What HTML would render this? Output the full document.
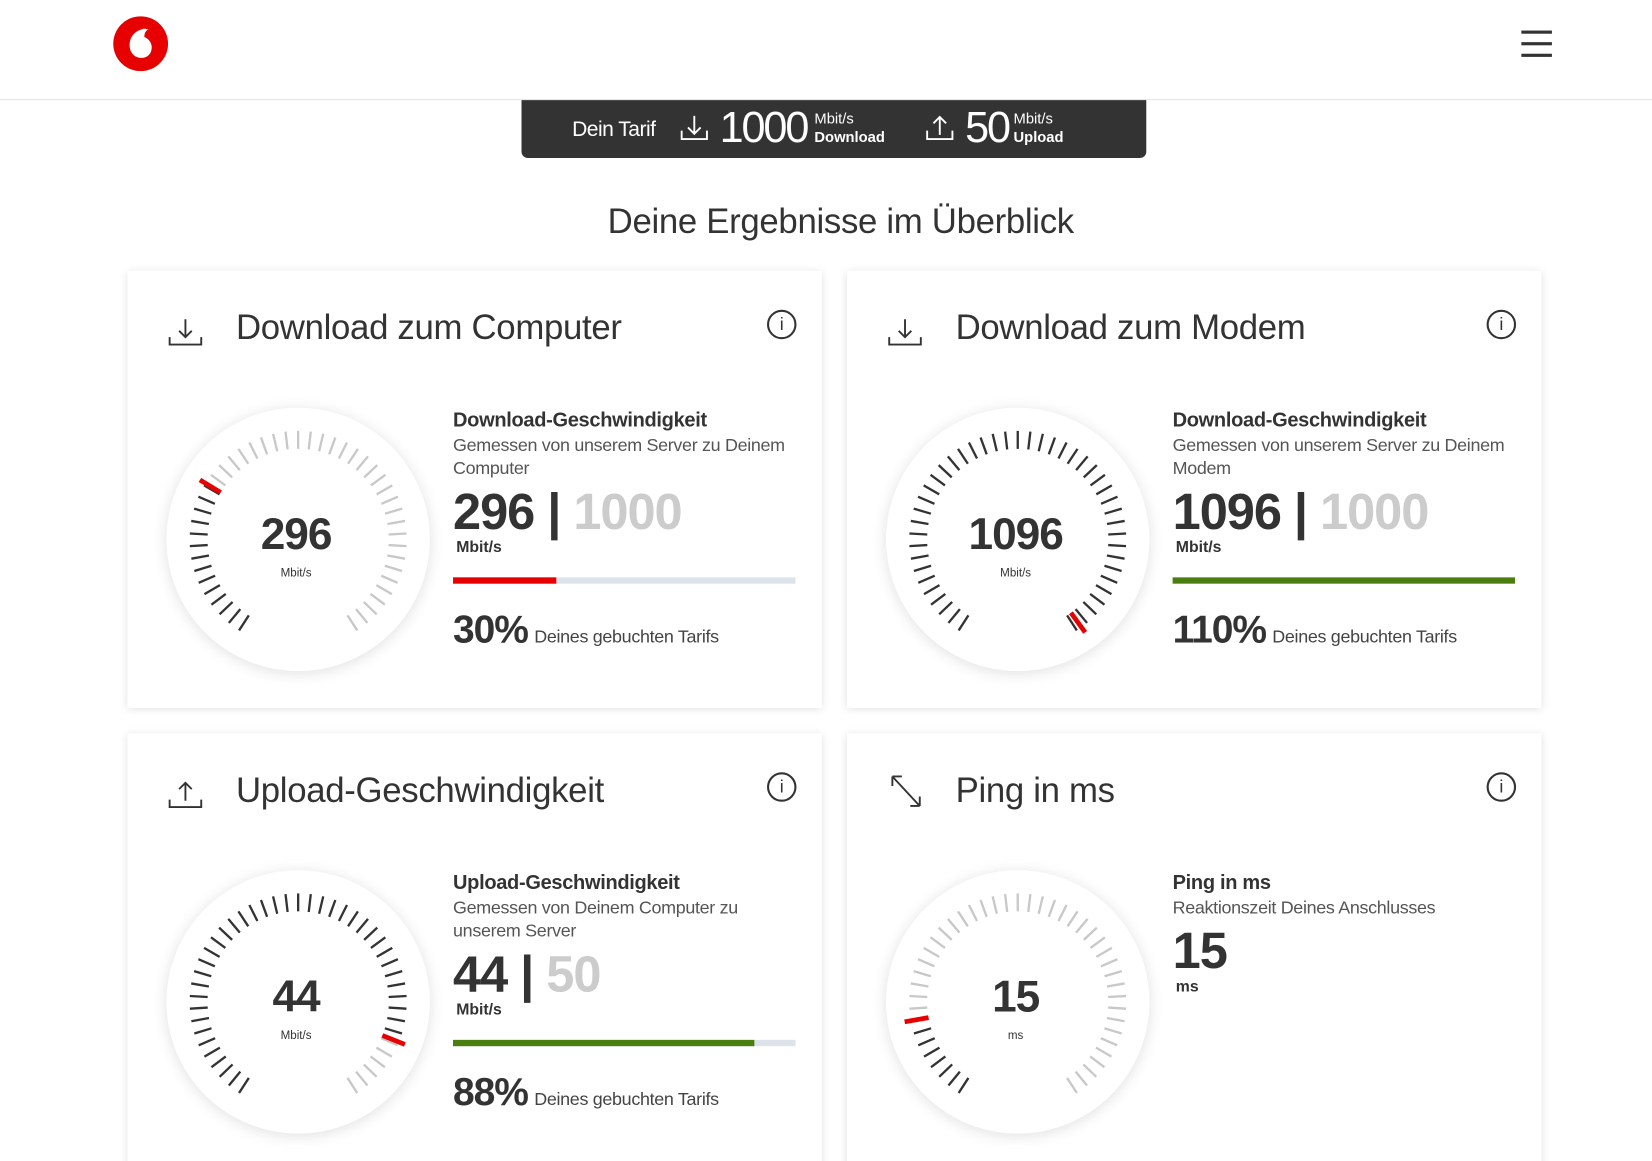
<!DOCTYPE html>
<html><head><meta charset="utf-8">
<style>
html,body{margin:0;padding:0;background:#fff;overflow:hidden}
body{width:1652px;height:1161px;position:relative;font-family:"Liberation Sans",sans-serif;color:#333}
#w{position:absolute;left:0;top:0;width:1568px;height:1102px;transform:scale(1.05357);transform-origin:0 0}
.a{position:absolute;white-space:nowrap}
.card{position:absolute;width:659px;height:415px;background:#fff;box-shadow:0 1px 8px rgba(0,0,0,0.13)}
.ttl{position:absolute;left:103px;top:35px;font-size:33px;color:#333;letter-spacing:-0.3px}
.gauge{position:absolute;left:37px;top:130px;width:250px;height:250px;border-radius:50%;background:#fff;box-shadow:0 2px 14px rgba(0,0,0,0.12)}
.gauge svg{position:absolute;left:0;top:0}
.gn{position:absolute;left:-2px;width:250px;text-align:center;top:96px;font-size:42px;font-weight:bold;color:#333;letter-spacing:-1px}
.gu{position:absolute;left:-2px;width:250px;text-align:center;top:151px;font-size:11px;color:#333}
.rt{position:absolute;left:309px}
.h{font-size:19px;font-weight:bold;top:132px;letter-spacing:-0.3px}
.d{font-size:17px;color:#555;top:155px;line-height:22px;white-space:normal;width:330px;letter-spacing:-0.3px}
.big{font-size:48px;font-weight:bold;top:202px;letter-spacing:-1px}
.big span{color:#ccc}
.un{font-size:15px;font-weight:bold;top:254px;left:312px}
.bar{top:291px;width:325px;height:6px;background:#dde3ea}
.bar div{height:6px}
.pc{top:320px;font-size:37px;font-weight:bold;letter-spacing:-1px}
.pc span{font-size:17px;font-weight:normal;color:#444;margin-left:6px;letter-spacing:-0.3px}
.info{position:absolute;left:607px;top:37px;width:24px;height:24px;border:2px solid #333;border-radius:50%;text-align:center;font-size:17px;line-height:24px}
</style></head><body><div id="w">
<div class="a" style="left:0;top:0;width:1568px;height:94px;border-bottom:1px solid #e5e5e5"></div>
<svg class="a" style="left:107px;top:15px" width="53" height="53" viewBox="0 0 53 53"><circle cx="26.5" cy="26.5" r="26" fill="#e60000"/><path d="M27 13c-7 2-11 8-11 15 0 7 5 12 11 12 6 0 10-4 10-10 0-5-3-8-7-10 0-3 1-6 4-7-3-1-5-1-7 0z" fill="#fff"/></svg>
<div class="a" style="left:1444px;top:29px;width:29px;height:3px;background:#333"></div>
<div class="a" style="left:1444px;top:40px;width:29px;height:3px;background:#333"></div>
<div class="a" style="left:1444px;top:51px;width:29px;height:3px;background:#333"></div>
<div class="a" style="left:495px;top:95px;width:593px;height:55px;background:#333;border-radius:0 0 6px 6px"></div>
<div class="a" style="left:543px;top:112px;font-size:20px;color:#fff;letter-spacing:-0.5px">Dein Tarif</div>
<svg class="a" style="left:645px;top:108px" width="28" height="26"><path d="M14 2v17M8 13l6 6 6-6M2 16v8h24v-8" stroke="#fff" stroke-width="1.8" fill="none"/></svg>
<div class="a" style="left:683px;top:98px;font-size:41px;color:#fff;letter-spacing:-2px">1000</div>
<div class="a" style="left:773px;top:104px;font-size:14px;color:#fff">Mbit/s</div>
<div class="a" style="left:773px;top:122px;font-size:14px;color:#fff;font-weight:bold">Download</div>
<svg class="a" style="left:878px;top:108px" width="28" height="26"><path d="M14 20V3M8 9l6-6 6 6M2 16v8h24v-8" stroke="#fff" stroke-width="1.8" fill="none"/></svg>
<div class="a" style="left:916px;top:98px;font-size:41px;color:#fff;letter-spacing:-2px">50</div>
<div class="a" style="left:962px;top:104px;font-size:14px;color:#fff">Mbit/s</div>
<div class="a" style="left:962px;top:122px;font-size:14px;color:#fff;font-weight:bold">Upload</div>
<div class="a" style="left:0;width:1596px;text-align:center;top:191px;font-size:33px;color:#333;letter-spacing:-0.3px">Deine Ergebnisse im Überblick</div>

<div class="card" style="left:121px;top:257px">
<svg class="a" style="left:38px;top:44px" width="34" height="28"><path d="M17 2v17M11 13l6 6 6-6M2 19v7h30v-7" stroke="#333" stroke-width="1.8" fill="none"/></svg>
<div class="ttl">Download zum Computer</div><div class="info">i</div>
<div class="gauge"><svg width="250" height="250" data-f="0.30" data-m="0.30"></svg><div class="gn">296</div><div class="gu">Mbit/s</div></div>
<div class="a rt h">Download-Geschwindigkeit</div>
<div class="a rt d">Gemessen von unserem Server zu Deinem Computer</div>
<div class="a rt big">296 | <span>1000</span></div>
<div class="a un">Mbit/s</div>
<div class="a rt bar"><div style="width:30%;background:#e60000"></div></div>
<div class="a rt pc">30%<span>Deines gebuchten Tarifs</span></div>
</div>

<div class="card" style="left:804px;top:257px">
<svg class="a" style="left:38px;top:44px" width="34" height="28"><path d="M17 2v17M11 13l6 6 6-6M2 19v7h30v-7" stroke="#333" stroke-width="1.8" fill="none"/></svg>
<div class="ttl">Download zum Modem</div><div class="info">i</div>
<div class="gauge"><svg width="250" height="250" data-f="1" data-m="0.99"></svg><div class="gn">1096</div><div class="gu">Mbit/s</div></div>
<div class="a rt h">Download-Geschwindigkeit</div>
<div class="a rt d">Gemessen von unserem Server zu Deinem Modem</div>
<div class="a rt big">1096 | <span>1000</span></div>
<div class="a un">Mbit/s</div>
<div class="a rt bar"><div style="width:100%;background:#4a7f10"></div></div>
<div class="a rt pc">110%<span>Deines gebuchten Tarifs</span></div>
</div>

<div class="card" style="left:121px;top:696px">
<svg class="a" style="left:38px;top:44px" width="34" height="28"><path d="M17 20V3M11 9l6-6 6 6M2 19v7h30v-7" stroke="#333" stroke-width="1.8" fill="none"/></svg>
<div class="ttl">Upload-Geschwindigkeit</div><div class="info">i</div>
<div class="gauge"><svg width="250" height="250" data-f="0.88" data-m="0.88"></svg><div class="gn">44</div><div class="gu">Mbit/s</div></div>
<div class="a rt h">Upload-Geschwindigkeit</div>
<div class="a rt d">Gemessen von Deinem Computer zu unserem Server</div>
<div class="a rt big">44 | <span>50</span></div>
<div class="a un">Mbit/s</div>
<div class="a rt bar"><div style="width:88%;background:#4a7f10"></div></div>
<div class="a rt pc">88%<span>Deines gebuchten Tarifs</span></div>
</div>

<div class="card" style="left:804px;top:696px">
<svg class="a" style="left:40px;top:38px" width="32" height="34"><path d="M3 3l26 28M3 3h9M3 3v9M29 31h-9M29 31v-9" stroke="#333" stroke-width="1.8" fill="none"/></svg>
<div class="ttl">Ping in ms</div><div class="info">i</div>
<div class="gauge"><svg width="250" height="250" data-f="0.16" data-m="0.16"></svg><div class="gn">15</div><div class="gu">ms</div></div>
<div class="a rt h">Ping in ms</div>
<div class="a rt d">Reaktionszeit Deines Anschlusses</div>
<div class="a rt big" style="top:180px">15</div>
<div class="a un" style="top:232px">ms</div>
</div>
</div>
<script>
document.querySelectorAll('.gauge svg').forEach(function(s){
var f=+s.dataset.f,m=+s.dataset.m,h='',N=45,c=125;
for(var i=0;i<N;i++){var t=i/(N-1),a=(-147+294*t)*Math.PI/180,sn=Math.sin(a),cs=-Math.cos(a);
var col=t<=f?'#333':'#c8c8c8';
h+='<line x1="'+(c+86*sn)+'" y1="'+(c+86*cs)+'" x2="'+(c+103*sn)+'" y2="'+(c+103*cs)+'" stroke="'+col+'" stroke-width="2.2"/>';}
var a=(-147+294*m)*Math.PI/180,sn=Math.sin(a),cs=-Math.cos(a);
h+='<line x1="'+(c+86*sn)+'" y1="'+(c+86*cs)+'" x2="'+(c+109*sn)+'" y2="'+(c+109*cs)+'" stroke="#e60000" stroke-width="4.5"/>';
s.innerHTML=h;});
</script>
</body></html>
